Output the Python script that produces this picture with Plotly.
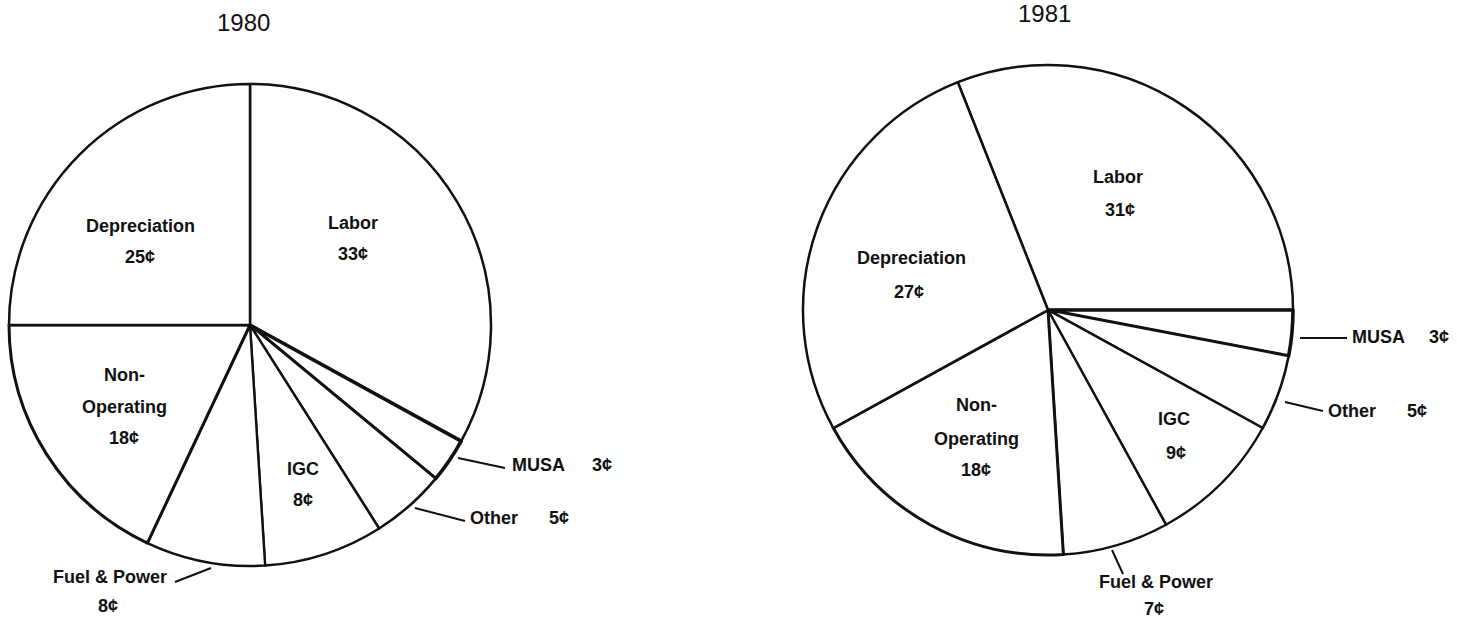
import plotly.graph_objects as go

# Cost components, in cents per revenue dollar
categories = ["Labor", "MUSA", "Other", "IGC", "Fuel & Power", "Non-Operating", "Depreciation"]
cents_1980 = [33, 3, 5, 8, 8, 18, 25]
cents_1981 = [31, 3, 5, 9, 7, 18, 27]
years = ["1980", "1981"]

W, H = 1457, 621
INK = "#111111"


def fx(px):
    return px / W


def fy(py):
    return 1 - py / H


def pie_domain(cx, cy, r):
    return dict(x=[fx(cx - r), fx(cx + r)], y=[fy(cy + r), fy(cy - r)])


def cents(v):
    return f"{v}\u00a2"


# slice outline widths (the MUSA wedge is ruled a little heavier)
edge_widths = [2.5, 3.6, 2.6, 2.4, 2.4, 3.0, 2.5]

# 1980 starts Labor at 12 o'clock; 1981 is turned so Labor ends at 3 o'clock
rotations = [0, 90 - 360 * cents_1981[0] / sum(cents_1981)]
geoms = [(250, 325, 241), (1048, 310, 245)]

fig = go.Figure()
for vals, rot, (cx, cy, r), yr in zip([cents_1980, cents_1981], rotations, geoms, years):
    fig.add_trace(go.Pie(
        labels=categories, values=vals, sort=False, direction="clockwise",
        rotation=rot, textinfo="none",
        hovertemplate="%{label}: %{value}\u00a2<extra>" + yr + "</extra>",
        marker=dict(colors=["white"] * len(vals), line=dict(color=INK, width=edge_widths)),
        domain=pie_domain(cx, cy, r), showlegend=False,
    ))

non_a, non_b = categories[5].split("-")
label_rows = [
    # 1980
    (categories[0], 353, 223, "center"), (cents(cents_1980[0]), 353, 254, "center"),
    (categories[6], 140, 226, "center"), (cents(cents_1980[6]), 140, 257, "center"),
    (non_a + "-", 124, 375, "center"), (non_b, 124, 407, "center"),
    (cents(cents_1980[5]), 124, 438, "center"),
    (categories[3], 303, 469, "center"), (cents(cents_1980[3]), 303, 500, "center"),
    (categories[1], 510, 465, "left"), (cents(cents_1980[1]), 590, 465, "left"),
    (categories[2], 468, 518, "left"), (cents(cents_1980[2]), 547, 518, "left"),
    (categories[4], 110, 577, "center"), (cents(cents_1980[4]), 108, 606, "center"),
    # 1981
    (categories[0], 1118, 177, "center"), (cents(cents_1981[0]), 1120, 210, "center"),
    (categories[6], 911, 258, "center"), (cents(cents_1981[6]), 909, 292, "center"),
    (non_a + "-", 976, 405, "center"), (non_b, 976, 439, "center"),
    (cents(cents_1981[5]), 976, 470, "center"),
    (categories[3], 1174, 419, "center"), (cents(cents_1981[3]), 1176, 453, "center"),
    (categories[1], 1350, 337, "left"), (cents(cents_1981[1]), 1427, 337, "left"),
    (categories[2], 1326, 411, "left"), (cents(cents_1981[2]), 1405, 411, "left"),
    (categories[4], 1156, 582, "center"), (cents(cents_1981[4]), 1154, 609, "center"),
]

label_font = dict(family="Liberation Sans, Arial, sans-serif", size=18, color=INK, weight="bold")
annotations = [
    dict(text=t, x=fx(x), y=fy(y), xref="paper", yref="paper", xanchor=anc,
         yanchor="middle", showarrow=False, font=label_font)
    for t, x, y, anc in label_rows
]

title_font = dict(family="Liberation Sans, Arial, sans-serif", size=24, color=INK)
for yr, (x, y) in zip(years, [(243, 23), (1044, 14)]):
    annotations.append(dict(text=yr, x=fx(x), y=fy(y), xref="paper", yref="paper",
                            xanchor="center", yanchor="middle", showarrow=False,
                            font=title_font))

# leader lines from the small wedges to their labels
leaders = [
    ((458, 458), (505, 468)),
    ((415, 508), (465, 521)),
    ((211, 568), (175, 582)),
    ((1300, 338), (1347, 338)),
    ((1285, 402), (1323, 411)),
    ((1112, 550), (1123, 574)),
]
shapes = [
    dict(type="line", xref="paper", yref="paper", x0=fx(a[0]), y0=fy(a[1]),
         x1=fx(b[0]), y1=fy(b[1]), line=dict(color=INK, width=2))
    for a, b in leaders
]

fig.update_layout(
    width=W, height=H, margin=dict(l=0, r=0, t=0, b=0),
    paper_bgcolor="white", plot_bgcolor="white",
    annotations=annotations, shapes=shapes, showlegend=False,
)

fig.write_html("out.html")
